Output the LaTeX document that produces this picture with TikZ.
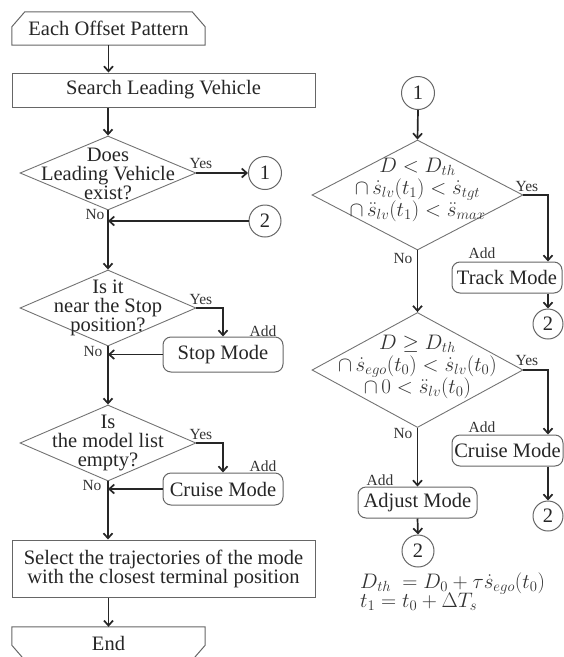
\RequirePackage{fix-cm}
\documentclass[tikz,border=0pt]{standalone}
\usepackage[no-math]{fontspec}
\setmainfont{Liberation Serif}
\usetikzlibrary{arrows.meta,shapes.geometric,calc}

\begin{document}
\begin{tikzpicture}[x=1pt,y=-1pt,
  txt/.style={font=\fontsize{20.5}{19}\selectfont, text=black!85},
  mth/.style={font=\fontsize{21}{22}\selectfont, text=black!80},
  lbl/.style={font=\fontsize{15.5}{15.5}\selectfont, text=black!80, inner sep=0pt},
  shapeline/.style={draw=black!60, line width=1pt},
  flow/.style={draw=black!85, line width=1.7pt, -{Straight Barb[length=5pt,width=9pt]}},
  procbox/.style={shapeline, rectangle, inner sep=0pt, txt, align=center},
  modebox/.style={shapeline, rectangle, rounded corners=8pt, inner sep=0pt, txt},
  decision/.style={diamond, draw=black!55, line width=0.9pt, inner sep=0pt},
  conn/.style={circle, shapeline, inner sep=0pt, txt},
  termtext/.style={rectangle, inner sep=0pt, txt}]

\useasboundingbox (0,0) rectangle (564,657);

% ---------------- left column ----------------
\node[termtext, minimum width=193pt, minimum height=33pt] (start) at (108.5,28.5) {Each Offset Pattern};
\draw[shapeline] (start.south west) -- ($(start.north west)+(0,15)$) -- ($(start.north west)+(13,0)$)
  -- ($(start.north east)+(-13,0)$) -- ($(start.north east)+(0,15)$) -- (start.south east) -- cycle;

\node[procbox, minimum width=303pt, minimum height=34pt] (search) at (163.5,90) {Search Leading Vehicle};

\node[decision, minimum width=176pt, minimum height=74pt] (d1) at (108,173) {};
\node[txt, align=center, inner sep=0pt] (d1t) at (108,174) {Does\\Leading Vehicle\\exist?};

\node[conn, minimum size=33pt] (c1) at (265,173) {1};
\node[conn, minimum size=32pt] (c2) at (265,221) {2};

\node[decision, minimum width=176pt, minimum height=76pt] (d2) at (108,308) {};
\node[txt, align=center, inner sep=0pt] (d2t) at (108,308) {Is it\\near the Stop\\position?};

\node[modebox, minimum width=120pt, minimum height=35pt] (stop) at (223,354.5) {Stop Mode};

\node[decision, minimum width=176pt, minimum height=76pt] (d3) at (108,443) {};
\node[txt, align=center, inner sep=0pt] (d3t) at (108,443) {Is\\the model list\\empty?};

\node[modebox, minimum width=120pt, minimum height=32pt] (cruiseL) at (223,489) {Cruise Mode};

\node[procbox, minimum width=303pt, minimum height=57pt] (select) at (163.5,568.5)
  {Select the trajectories of the mode\\with the closest terminal position};

\node[termtext, minimum width=193pt, minimum height=33pt] (end) at (108.5,643.5) {End};
\draw[shapeline] (end.north west) -- (end.north east) -- ($(end.south east)+(0,-15)$)
  -- ($(end.south east)+(-13,0)$) -- ($(end.south west)+(13,0)$) -- ($(end.south west)+(0,-15)$) -- cycle;

% connectors, left column
\draw[flow] (start.south) -- (start.south |- search.north);
\draw[flow] (d1 |- search.south) -- (d1.north);
\draw[flow] (d1.east) -- (c1.west);
\draw[flow] (c2.west) -- (d1.south |- c2.west);
\draw[flow] (d1.south) -- (d2.north);
\draw[flow] (d2.east) -| (stop.north);
\draw[flow] (stop.west) -- (d2.south |- stop.west);
\draw[flow] (d2.south) -- (d3.north);
\draw[flow] (d3.east) -| (cruiseL.north);
\draw[flow] (cruiseL.west) -- (d3.south |- cruiseL.west);
\draw[flow] (d3.south) -- (d3.south |- select.north);
\draw[flow] (end.north |- select.south) -- (end.north);

% labels, left column
\node[lbl] (y1) at (201,163) {Yes};
\node[lbl] (n1) at (95,214) {No};
\node[lbl] (y2) at (201,299) {Yes};
\node[lbl] (n2) at (93,351) {No};
\node[lbl] (a1) at (263,331) {Add};
\node[lbl] (y3) at (201,434) {Yes};
\node[lbl] (n3) at (92,485) {No};
\node[lbl] (a2) at (263,466) {Add};

% ---------------- right column ----------------
\node[conn, minimum size=33pt] (c1r) at (418,93) {1};

\node[decision, minimum width=211pt, minimum height=110pt] (r1) at (417.5,195) {};
\node[mth, align=center, inner sep=0pt] (r1t) at (417.5,190)
  {$D < D_{th}$\\$\cap\,\dot{s}_{lv}(t_1) < \dot{s}_{tgt}$\\$\cap\,\ddot{s}_{lv}(t_1) < \ddot{s}_{max}$};

\node[modebox, minimum width=110pt, minimum height=31pt] (track) at (507,277.5) {Track Mode};
\node[conn, minimum size=30pt] (c2t) at (548,324) {2};

\node[decision, minimum width=211pt, minimum height=115pt] (r2) at (417.5,370) {};
\node[mth, align=center, inner sep=0pt] (r2t) at (417.5,367)
  {$D \geq D_{th}$\\$\cap\,\dot{s}_{ego}(t_0) < \dot{s}_{lv}(t_0)$\\$\cap\,0 < \ddot{s}_{lv}(t_0)$};

\node[modebox, minimum width=111pt, minimum height=31pt] (cruiseR) at (507.5,450.5) {Cruise Mode};
\node[conn, minimum size=30pt] (c2c) at (548,516) {2};

\node[modebox, minimum width=119pt, minimum height=31pt] (adjust) at (417.5,502.5) {Adjust Mode};
\node[conn, minimum size=32pt] (c2a) at (418,551) {2};

% connectors, right column
\draw[flow] (c1r.south) -- (r1.north);
\draw[flow] (r1.east) -| (c2t.north |- track.north);
\draw[flow] (c2t.north |- track.south) -- (c2t.north);
\draw[flow] (r1.south) -- (r2.north);
\draw[flow] (r2.east) -| (c2c.north |- cruiseR.north);
\draw[flow] (c2c.north |- cruiseR.south) -- (c2c.north);
\draw[flow] (r2.south) -- (adjust.north);
\draw[flow] (adjust.south) -- (c2a.north);

% labels, right column
\node[lbl] (y4) at (527,186) {Yes};
\node[lbl] (n4) at (403,258) {No};
\node[lbl] (a3) at (482,253) {Add};
\node[lbl] (y5) at (527,360) {Yes};
\node[lbl] (n5) at (403,433) {No};
\node[lbl] (a4) at (482,427) {Add};
\node[lbl] (a5) at (380,480) {Add};

% definitions
\node[mth, anchor=base west, inner sep=0pt] (eq1) at (360,588) {$D_{th}\ = D_0 + \tau\dot{s}_{ego}(t_0)$};
\node[mth, anchor=base west, inner sep=0pt] (eq2) at (360,607) {$t_1 = t_0 + \Delta T_s$};

\end{tikzpicture}
\end{document}
